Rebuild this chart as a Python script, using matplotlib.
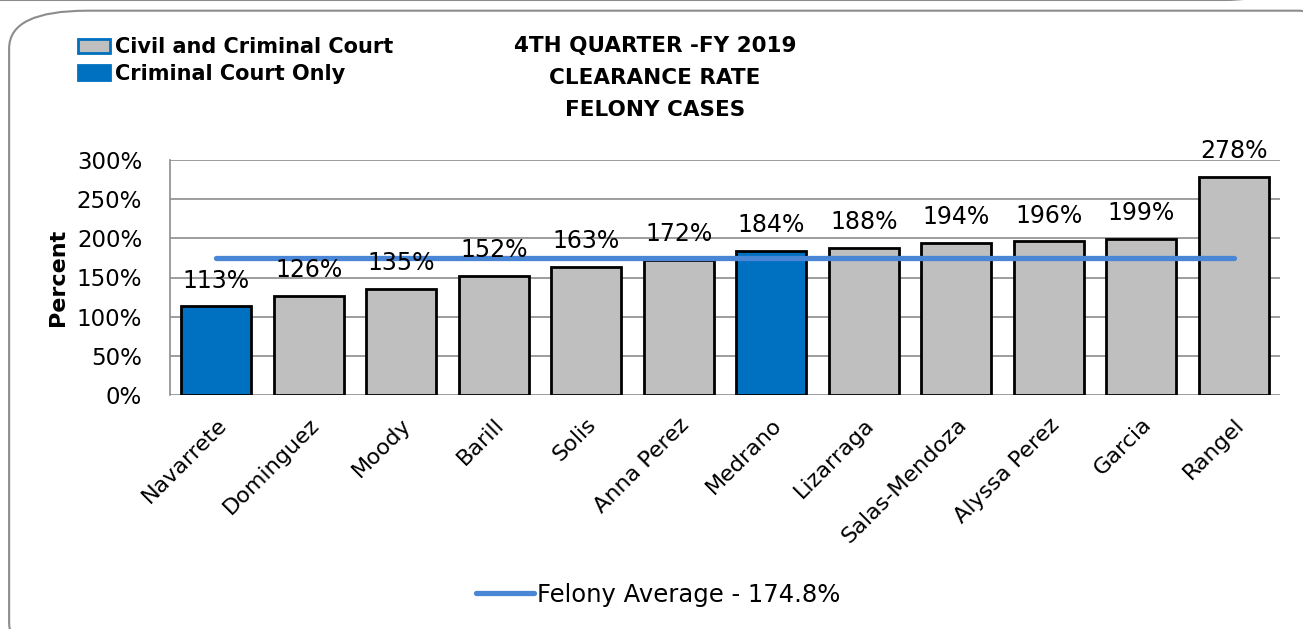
import matplotlib.pyplot as plt
from matplotlib.patches import FancyBboxPatch, Patch
from matplotlib.lines import Line2D

judges = ['Navarrete', 'Dominguez', 'Moody', 'Barill', 'Solis', 'Anna Perez', 'Medrano',
          'Lizarraga', 'Salas-Mendoza', 'Alyssa Perez', 'Garcia', 'Rangel']
rates = [113, 126, 135, 152, 163, 172, 184, 188, 194, 196, 199, 278]
criminal_only = [True, False, False, False, False, False, True, False, False, False, False, False]
felony_avg = 174.8

gray = '#bfbfbf'
blue = '#0070c0'
line_blue = '#4a86d6'

fig = plt.figure(figsize=(13.03, 6.29), dpi=100)

# rounded frames (previous chart edge on top, this chart's box)
fig.patches.append(FancyBboxPatch((-0.05, 1.0), 1.03, 0.2, boxstyle='round,pad=0,rounding_size=0.04',
                                  transform=fig.transFigure, fill=False, edgecolor='#8c8c8c', lw=1.5))
fig.patches.append(FancyBboxPatch((0.007, -0.05), 1.05, 1.033, boxstyle='round,pad=0,rounding_size=0.06',
                                  transform=fig.transFigure, fill=False, edgecolor='#8c8c8c', lw=1.5))

ax = fig.add_axes([170 / 1303, 1 - 395 / 629, 1110 / 1303, 235 / 629])
x = range(len(judges))
colors = [blue if c else gray for c in criminal_only]
ax.bar(x, rates, width=0.76, color=colors, edgecolor='black', linewidth=2, zorder=3)
ax.plot([0, len(judges) - 1], [felony_avg, felony_avg], color=line_blue, lw=3.8,
        solid_capstyle='round', zorder=4)

for i, v in enumerate(rates):
    ax.annotate(f'{v}%', (i, v), xytext=(0, 10), textcoords='offset points',
                ha='center', va='bottom', fontsize=17, zorder=5)

ax.set_xlim(-0.5, len(judges) - 0.5)
ax.set_ylim(0, 300)
ax.set_yticks(range(0, 301, 50))
ax.set_yticklabels([f'{t}%' for t in range(0, 301, 50)], fontsize=16.5)
ax.set_xticks(list(x))
ax.set_xticklabels(judges, rotation=45, ha='right', rotation_mode='anchor', fontsize=16)
ax.tick_params(axis='y', length=0, pad=20)
ax.tick_params(axis='x', length=0, pad=14)
for lbl in ax.get_xticklabels():
    lbl.set_x(lbl.get_position()[0])
ax.grid(axis='y', color='#8c8c8c', lw=1.2, zorder=0)
for s in ['top', 'right', 'bottom']:
    ax.spines[s].set_visible(False)
ax.spines['left'].set_color('#8c8c8c')
ax.spines['left'].set_linewidth(1.2)
ax.set_ylabel('Percent', fontsize=16, fontweight='bold', labelpad=6)

fig.text(655 / 1303, 1 - 78 / 629, '4TH QUARTER -FY 2019\nCLEARANCE RATE\nFELONY CASES',
         ha='center', va='center', fontsize=15.5, fontweight='bold', linespacing=1.75)

handles = [Patch(facecolor=gray, edgecolor=blue, lw=2), Patch(facecolor=blue, edgecolor=blue, lw=2)]
fig.legend(handles, ['Civil and Criminal Court', 'Criminal Court Only'], loc='upper left',
           bbox_to_anchor=(68 / 1303, 1 - 27 / 629), frameon=False, prop={'size': 15, 'weight': 'bold'},
           handlelength=1.5, handleheight=0.7, handletextpad=0.25, labelspacing=0.3, borderpad=0)

fig.legend([Line2D([], [], color=line_blue, lw=3.8, solid_capstyle='round')],
           [f'Felony Average - {felony_avg}%'], loc='center', bbox_to_anchor=(658 / 1303, 1 - 595 / 629),
           frameon=False, fontsize=17.5, handlelength=2.4, handletextpad=0.1)

fig.savefig('out.png', dpi=100)
